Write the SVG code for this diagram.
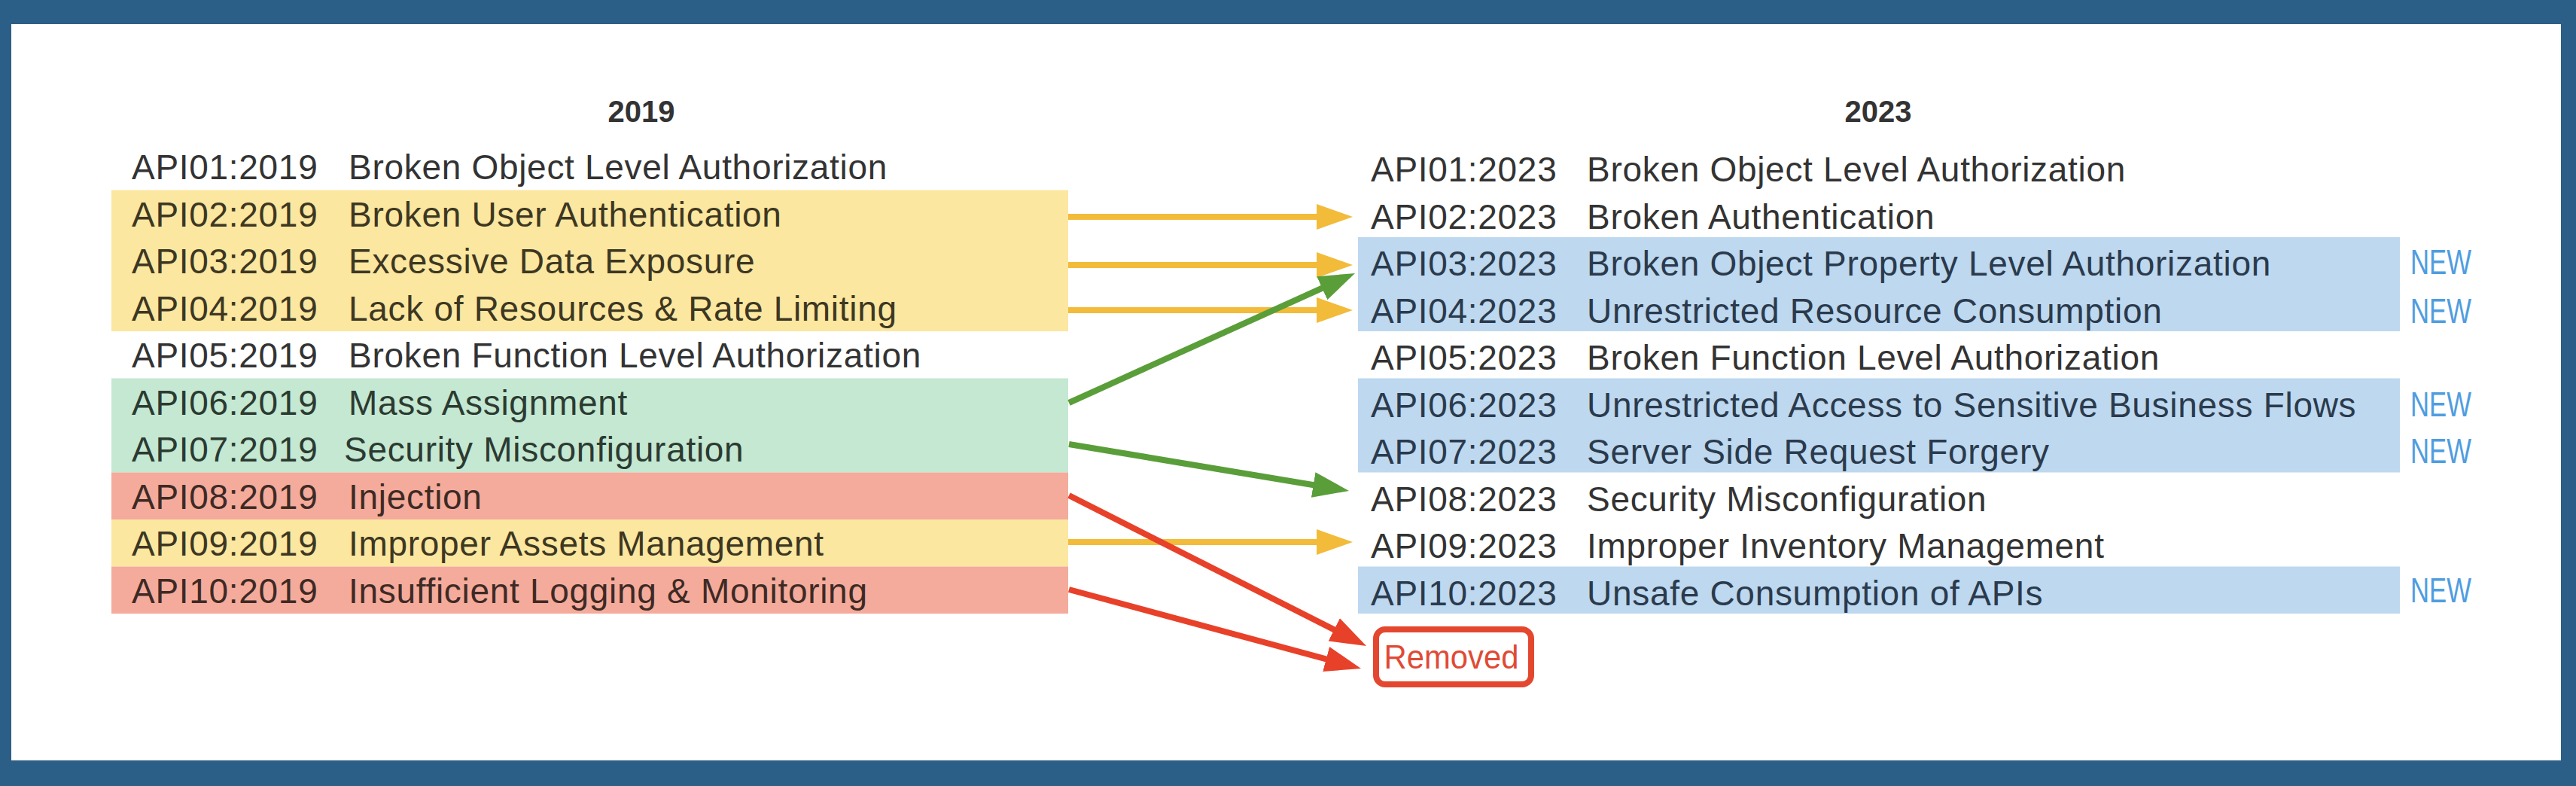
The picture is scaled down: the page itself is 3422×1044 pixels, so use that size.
<svg xmlns="http://www.w3.org/2000/svg" width="3422" height="1044" viewBox="0 0 3422 1044">
<style>
.t{font-family:"Liberation Sans",Arial,sans-serif;font-size:46px;letter-spacing:0.7px;fill:#333}
.ty{fill:#3d3722}.tg{fill:#2c3a31}.tr{fill:#3e2a25}.tb{fill:#2b3a4c}
.h{font-family:"Liberation Sans",Arial,sans-serif;font-size:40px;font-weight:bold;fill:#333;text-anchor:middle}
.new{font-family:"Liberation Sans",Arial,sans-serif;font-size:47px;fill:#4f9de0}
.yb{fill:#fbe7a0}.gb{fill:#c4e8d2}.rb{fill:#f4ab9b}.bb{fill:#bdd8ef}
.ay{stroke:#f2bb3a;stroke-width:8;fill:none}
.ag{stroke:#5a9e3a;stroke-width:8;fill:none}
.ar{stroke:#e8412a;stroke-width:8;fill:none}
</style>
<defs>
<marker id="hy" markerUnits="userSpaceOnUse" markerWidth="48" markerHeight="34" refX="28" refY="17" orient="auto"><path d="M0,0 L48,17 L0,34 z" fill="#f2bb3a"/></marker>
<marker id="hg" markerUnits="userSpaceOnUse" markerWidth="48" markerHeight="34" refX="28" refY="17" orient="auto"><path d="M0,0 L48,17 L0,34 z" fill="#5a9e3a"/></marker>
<marker id="hr" markerUnits="userSpaceOnUse" markerWidth="48" markerHeight="34" refX="28" refY="17" orient="auto"><path d="M0,0 L48,17 L0,34 z" fill="#e8412a"/></marker>
</defs>
<rect x="0" y="0" width="3422" height="1044" fill="#2c5f87"/>
<rect x="15" y="32" width="3387" height="978" fill="#ffffff"/>

<text id="title2019" class="h" x="852" y="162">2019</text>
<text id="title2023" class="h" x="2495" y="162">2023</text>

<g id="bands-2019">
<rect class="yb" x="148" y="252.5" width="1271" height="187.5"/>
<rect class="gb" x="148" y="502.5" width="1271" height="125"/>
<rect class="rb" x="148" y="627.5" width="1271" height="62.5"/>
<rect class="yb" x="148" y="690" width="1271" height="62.5"/>
<rect class="rb" x="148" y="752.5" width="1271" height="62.5"/>
</g>
<g id="bands-2023">
<rect class="bb" x="1804" y="315" width="1384" height="125"/>
<rect class="bb" x="1804" y="502.5" width="1384" height="125"/>
<rect class="bb" x="1804" y="752.5" width="1384" height="62.5"/>
</g>

<g id="api01-2019"><text class="t" x="175" y="238">API01:2019</text><text class="t" x="463" y="238">Broken Object Level Authorization</text></g>
<g id="api02-2019"><text class="t ty" x="175" y="300.5">API02:2019</text><text class="t ty" x="463" y="300.5">Broken User Authentication</text></g>
<g id="api03-2019"><text class="t ty" x="175" y="363">API03:2019</text><text class="t ty" x="463" y="363">Excessive Data Exposure</text></g>
<g id="api04-2019"><text class="t ty" x="175" y="425.5">API04:2019</text><text class="t ty" x="463" y="425.5">Lack of Resources &amp; Rate Limiting</text></g>
<g id="api05-2019"><text class="t" x="175" y="488">API05:2019</text><text class="t" x="463" y="488">Broken Function Level Authorization</text></g>
<g id="api06-2019"><text class="t tg" x="175" y="550.5">API06:2019</text><text class="t tg" x="463" y="550.5">Mass Assignment</text></g>
<g id="api07-2019"><text class="t tg" x="175" y="613">API07:2019</text><text class="t tg" x="457" y="613">Security Misconfiguration</text></g>
<g id="api08-2019"><text class="t tr" x="175" y="675.5">API08:2019</text><text class="t tr" x="463" y="675.5">Injection</text></g>
<g id="api09-2019"><text class="t ty" x="175" y="738">API09:2019</text><text class="t ty" x="463" y="738">Improper Assets Management</text></g>
<g id="api10-2019"><text class="t tr" x="175" y="800.5">API10:2019</text><text class="t tr" x="463" y="800.5">Insufficient Logging &amp; Monitoring</text></g>

<g id="api01-2023"><text class="t" x="1821" y="241">API01:2023</text><text class="t" x="2108" y="241">Broken Object Level Authorization</text></g>
<g id="api02-2023"><text class="t" x="1821" y="303.5">API02:2023</text><text class="t" x="2108" y="303.5">Broken Authentication</text></g>
<g id="api03-2023"><text class="t tb" x="1821" y="366">API03:2023</text><text class="t tb" x="2108" y="366">Broken Object Property Level Authorization</text><text class="new" x="3202" y="364" textLength="81" lengthAdjust="spacingAndGlyphs">NEW</text></g>
<g id="api04-2023"><text class="t tb" x="1821" y="428.5">API04:2023</text><text class="t tb" x="2108" y="428.5">Unrestricted Resource Consumption</text><text class="new" x="3202" y="429" textLength="81" lengthAdjust="spacingAndGlyphs">NEW</text></g>
<g id="api05-2023"><text class="t" x="1821" y="491">API05:2023</text><text class="t" x="2108" y="491">Broken Function Level Authorization</text></g>
<g id="api06-2023"><text class="t tb" x="1821" y="553.5">API06:2023</text><text class="t tb" x="2108" y="553.5">Unrestricted Access to Sensitive Business Flows</text><text class="new" x="3202" y="553" textLength="81" lengthAdjust="spacingAndGlyphs">NEW</text></g>
<g id="api07-2023"><text class="t tb" x="1821" y="616">API07:2023</text><text class="t tb" x="2108" y="616">Server Side Request Forgery</text><text class="new" x="3202" y="615" textLength="81" lengthAdjust="spacingAndGlyphs">NEW</text></g>
<g id="api08-2023"><text class="t" x="1821" y="678.5">API08:2023</text><text class="t" x="2108" y="678.5">Security Misconfiguration</text></g>
<g id="api09-2023"><text class="t" x="1821" y="741">API09:2023</text><text class="t" x="2108" y="741">Improper Inventory Management</text></g>
<g id="api10-2023"><text class="t tb" x="1821" y="803.5">API10:2023</text><text class="t tb" x="2108" y="803.5">Unsafe Consumption of APIs</text><text class="new" x="3202" y="800" textLength="81" lengthAdjust="spacingAndGlyphs">NEW</text></g>

<g id="removed">
<rect x="1828" y="836" width="206" height="73" rx="12" ry="12" fill="#ffffff" stroke="#e4472f" stroke-width="8"/>
<text x="1928" y="888" font-family="Liberation Sans, Arial, sans-serif" font-size="44" fill="#e04a35" text-anchor="middle" textLength="179" lengthAdjust="spacingAndGlyphs">Removed</text>
</g>

<g id="connectors">
<line class="ay" x1="1419" y1="288" x2="1777" y2="288" marker-end="url(#hy)"/>
<line class="ay" x1="1419" y1="352" x2="1777" y2="352" marker-end="url(#hy)"/>
<line class="ay" x1="1419" y1="412" x2="1777" y2="412" marker-end="url(#hy)"/>
<line class="ay" x1="1419" y1="720" x2="1777" y2="720" marker-end="url(#hy)"/>
<line class="ag" x1="1420" y1="535" x2="1781.8" y2="371.2" marker-end="url(#hg)"/>
<line class="ag" x1="1420" y1="590" x2="1772.3" y2="648.7" marker-end="url(#hg)"/>
<line class="ar" x1="1420" y1="658" x2="1797.2" y2="849" marker-end="url(#hr)"/>
<line class="ar" x1="1420" y1="783" x2="1788.7" y2="882.8" marker-end="url(#hr)"/>
</g>
</svg>
